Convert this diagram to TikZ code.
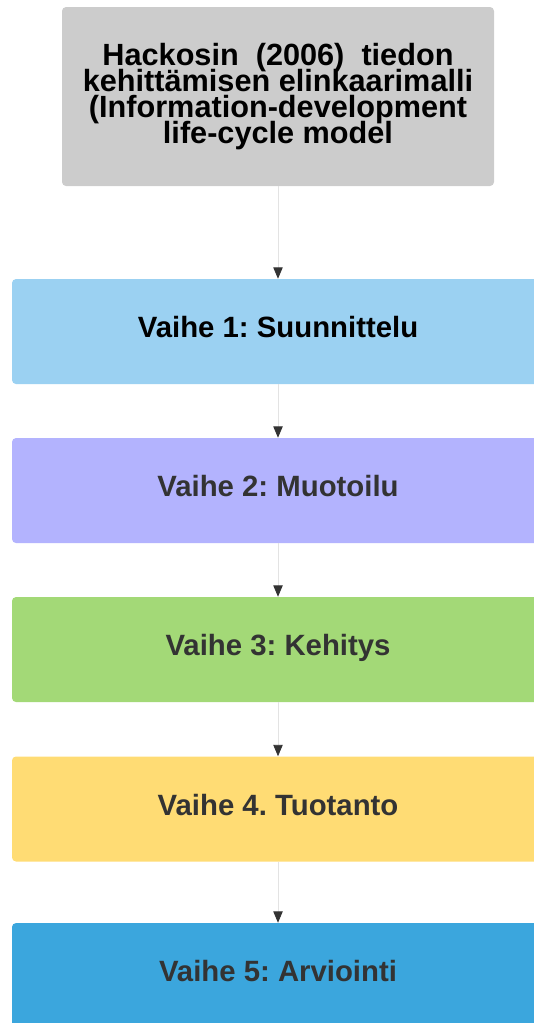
\documentclass[tikz,border=0pt]{standalone}
\usepackage{fontspec}
\setmainfont{Liberation Sans}
\usetikzlibrary{arrows.meta}
\frenchspacing

\definecolor{titlegray}{HTML}{CCCCCC}
\definecolor{phaseone}{HTML}{9BD1F2}
\definecolor{phasetwo}{HTML}{B3B3FE}
\definecolor{phasethree}{HTML}{A3D977}
\definecolor{phasefour}{HTML}{FFDC74}
\definecolor{phasefive}{HTML}{3BA6DD}
\definecolor{linkgray}{HTML}{E3E3E3}
\definecolor{tipgray}{HTML}{333333}

\newcommand{\titlefont}{\bfseries\fontsize{23}{19.3}\selectfont\lineskiplimit=-20pt\relax}

\begin{document}
\begin{tikzpicture}[auto, node distance=119.25pt, ->, >={Triangle[width=7pt,length=8.5pt,color=tipgray]}]
  \tikzstyle{every node}=[font=\bfseries\fontsize{22}{24}\selectfont]
  \tikzstyle{stage}=[rectangle, rounded corners=3pt, draw=none, minimum width=399pt, minimum height=78.75pt,
                     text height=12pt, text depth=3pt, text=tipgray]
  \tikzstyle{link}=[draw=linkgray, line width=0.6pt]

  \path[use as bounding box, clip] (0,0) rectangle (400.5pt,-767.25pt);

        \node[fill=titlegray, rounded corners=3pt, minimum width=324pt, minimum height=134.25pt, align=center,
              font=\titlefont]
                    (H) at (208.5pt,-72.4pt) {Hackosin\ \ (2006)\ \ tiedon\\kehittämisen elinkaarimalli\\(Information-development\\life-cycle model};
        \node[stage, fill=phaseone, text=black] (S1) [below of=H, node distance=176.25pt] {Vaihe 1: Suunnittelu};
        \node[stage, fill=phasetwo]   (S2) [below of=S1] {Vaihe 2: Muotoilu};
        \node[stage, fill=phasethree] (S3) [below of=S2] {Vaihe 3: Kehitys};
        \node[stage, fill=phasefour]  (S4) [below of=S3, node distance=119.6pt] {Vaihe 4. Tuotanto};
        \node[stage, fill=phasefive]  (S5) [below of=S4, node distance=124.9pt] {Vaihe 5: Arviointi};

        \path[link] (H) edge (S1)
        (S1) edge (S2)
        (S2) edge (S3)
        (S3) edge (S4)
        (S4) edge (S5);

\end{tikzpicture}
\end{document}
